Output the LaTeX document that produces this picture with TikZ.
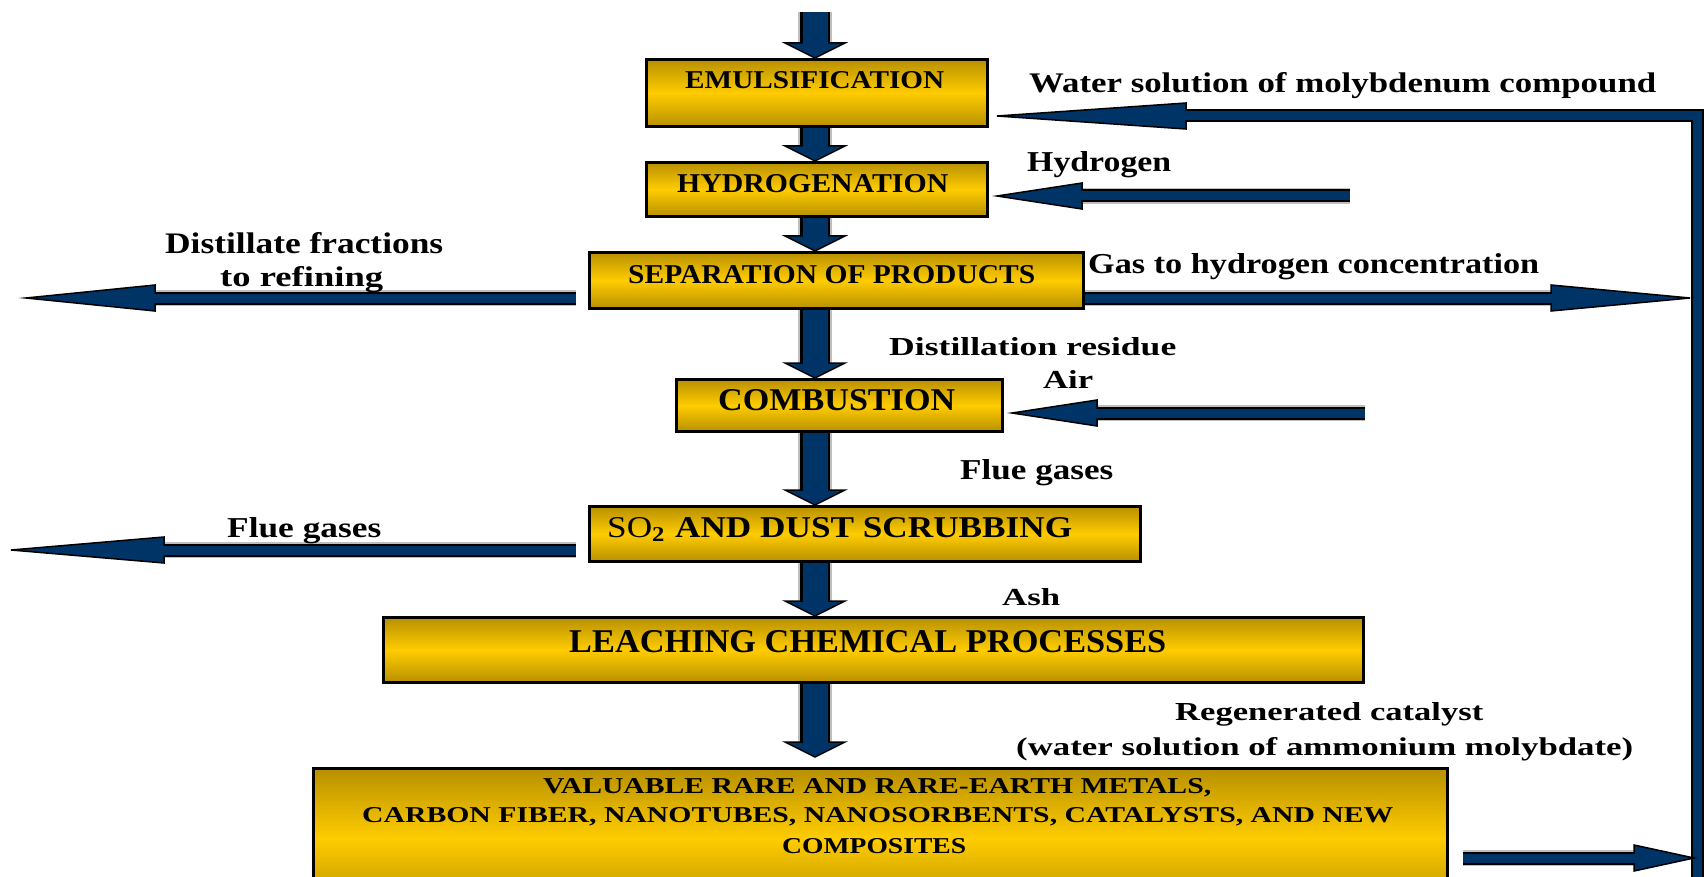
\documentclass[tikz,border=0pt]{standalone}
\usepackage{fontspec}
\setmainfont{Liberation Serif}
\usepackage{graphicx}
\usetikzlibrary{calc}
\definecolor{navy}{RGB}{0,51,102}
\definecolor{goldL}{RGB}{255,204,0}
\definecolor{goldD}{RGB}{184,144,0}
\definecolor{halo}{RGB}{190,190,190}
\newcommand\fitt[3]{\resizebox{#1pt}{#2pt}{\bfseries #3}}
\tikzset{
  box/.style={draw=black, line width=3pt, top color=goldD, bottom color=goldD, middle color=goldL, inner sep=0pt, anchor=north west},
  txt/.style={anchor=base west, inner sep=0pt, text=black},
  hgrey/.style={draw=halo, line width=16pt},
  hout/.style={draw=black, line width=13pt},
  hin/.style={draw=navy, line width=9pt},
  hhead/.style={fill=navy, draw=black, line width=1.5pt, line join=miter},
  vgrey/.style={draw=halo, line width=34pt},
  vout/.style={draw=black, line width=30pt},
  vin/.style={draw=navy, line width=25pt},
}
% horizontal block arrow: start, tip, signed head length
\newcommand\harrow[3]{%
  \draw[hgrey] (#1) -- ($(#2)+(#3,0)$);
  \draw[hout] (#1) -- ($(#2)+(#3,0)$);
  \path[hhead] (#2) -- ++(#3,-13) -- ++(0,26) -- cycle;
  \draw[hin] (#1) -- ($(#2)+(#3*0.985,0)$);
}
% vertical block arrow: start, tip
\newcommand\varrow[2]{%
  \draw[vgrey] (#1) -- ($(#2)+(0,-14)$);
  \draw[vout] (#1) -- ($(#2)+(0,-14)$);
  \path[hhead] (#2) -- ++(-30,-15) -- ++(60,0) -- cycle;
  \draw[vin] (#1) -- ($(#2)+(0,-13.5)$);
}
\begin{document}
\begin{tikzpicture}[x=1pt,y=-1pt]
\useasboundingbox (0,0) rectangle (1704,877);
\clip (0,0) rectangle (1704,877);
\fill[white] (0,0) rectangle (1704,877);

% boxes
\node[box, minimum width=341pt, minimum height=67pt] (emul) at (645,58) {};
\node[box, minimum width=341pt, minimum height=54pt] (hydro) at (645,161) {};
\node[box, minimum width=494pt, minimum height=56pt] (sep) at (588,251) {};
\node[box, minimum width=326pt, minimum height=52pt] (comb) at (675,378) {};
\node[box, minimum width=551pt, minimum height=55pt] (scrub) at (588,505) {};
\node[box, minimum width=980pt, minimum height=65pt] (leach) at (382,616) {};
\node[box, minimum width=1134pt, minimum height=140pt] (valu) at (312,767) {};

% coordinates
\coordinate (ax) at (815,0);
\coordinate (topin) at (815,12);
\coordinate (vtip) at ($(valu.north -| ax)+(0,-10)$);
\coordinate (wy) at (0,116);
\coordinate (hy) at (0,196);
\coordinate (sy) at (0,298);
\coordinate (ay) at (0,413);
\coordinate (fy) at (0,550);
\coordinate (by) at (0,858);
\coordinate (pbot) at (1697,880);
\coordinate (ptop) at (1697,116);
\coordinate (wtip) at ($(emul.east |- wy)+(8,0)$);
\coordinate (htail) at (1350,196);
\coordinate (htip) at ($(hydro.east |- hy)+(8,0)$);
\coordinate (dtail) at ($(sep.west |- sy)+(-12,0)$);
\coordinate (dtip) at (26,298);
\coordinate (gtip) at (1690,298);
\coordinate (atail) at (1365,413);
\coordinate (atip) at ($(comb.east |- ay)+(8,0)$);
\coordinate (ftail) at ($(scrub.west |- fy)+(-12,0)$);
\coordinate (ftip) at (11,550);
\coordinate (btail) at ($(valu.east |- by)+(14,0)$);
\coordinate (btip) at (1694,858);

% vertical flow arrows
\varrow{topin}{emul.north -| ax}
\varrow{emul.south -| ax}{hydro.north -| ax}
\varrow{hydro.south -| ax}{sep.north -| ax}
\varrow{sep.south -| ax}{comb.north -| ax}
\varrow{comb.south -| ax}{scrub.north -| ax}
\varrow{scrub.south -| ax}{leach.north -| ax}
\varrow{leach.south -| ax}{vtip}

% recycle pipe and water solution arrow
\draw[hout, line join=miter] (pbot) -- (ptop) -- ($(wtip)+(189,0)$);
\path[hhead] (wtip) -- ++(189,-13) -- ++(0,26) -- cycle;
\draw[hin, line join=miter] ($(pbot)+(0.5,0)$) -- ($(ptop)+(0.5,0)$) -- ($(wtip)+(186,0)$);

% horizontal arrows
\harrow{htail}{htip}{85}
\harrow{dtail}{dtip}{129}
\harrow{sep.east |- sy}{gtip}{-139}
\harrow{atail}{atip}{85}
\harrow{ftail}{ftip}{153}
\harrow{btail}{btip}{-60}

% box texts
\node[txt] (emulT) at (685,89) {\fitt{259}{17}{EMULSIFICATION}};
\node[txt] (hydroT) at (677,193) {\fitt{271}{18}{HYDROGENATION}};
\node[txt] (sepT) at (628,283) {\fitt{407}{18}{SEPARATION OF PRODUCTS}};
\node[txt] (combT) at (718,410) {\fitt{237}{21}{COMBUSTION}};
\node[txt] (scrubT) at (607,537) {\fitt{465}{20}{{\mdseries SO}\textsubscript{2} AND DUST SCRUBBING}};
\node[txt] (leachT) at (569,652) {\fitt{597}{22}{LEACHING CHEMICAL PROCESSES}};
\node[txt] (valuA) at (543,793) {\fitt{668}{15}{VALUABLE RARE AND RARE-EARTH METALS,}};
\node[txt] (valuB) at (362,822) {\fitt{1031}{15}{CARBON FIBER, NANOTUBES, NANOSORBENTS, CATALYSTS, AND NEW}};
\node[txt] (valuC) at (782,853) {\fitt{184}{15}{COMPOSITES}};

% labels
\node[txt] (lwater) at (1029,93) {\fitt{627}{20}{Water solution of molybdenum compound}};
\node[txt] (lhyd) at (1027,172) {\fitt{144}{20}{Hydrogen}};
\node[txt] (lgas) at (1088,273) {\fitt{451}{20}{Gas to hydrogen concentration}};
\node[txt] (ldistA) at (165,253) {\fitt{278}{21}{Distillate fractions}};
\node[txt] (ldistB) at (220,286) {\fitt{163}{20}{to refining}};
\node[txt] (lres) at (889,355) {\fitt{287}{18}{Distillation residue}};
\node[txt] (lair) at (1043,388) {\fitt{50}{18}{Air}};
\node[txt] (lflueR) at (960,479) {\fitt{153}{20}{Flue gases}};
\node[txt] (lflueL) at (227,537) {\fitt{154}{20}{Flue gases}};
\node[txt] (lash) at (1002,605) {\fitt{58}{17}{Ash}};
\node[txt] (lregA) at (1175,720) {\fitt{308}{18}{Regenerated catalyst}};
\node[txt] (lregB) at (1016,755) {\fitt{617}{18}{(water solution of ammonium molybdate)}};
\end{tikzpicture}
\end{document}
